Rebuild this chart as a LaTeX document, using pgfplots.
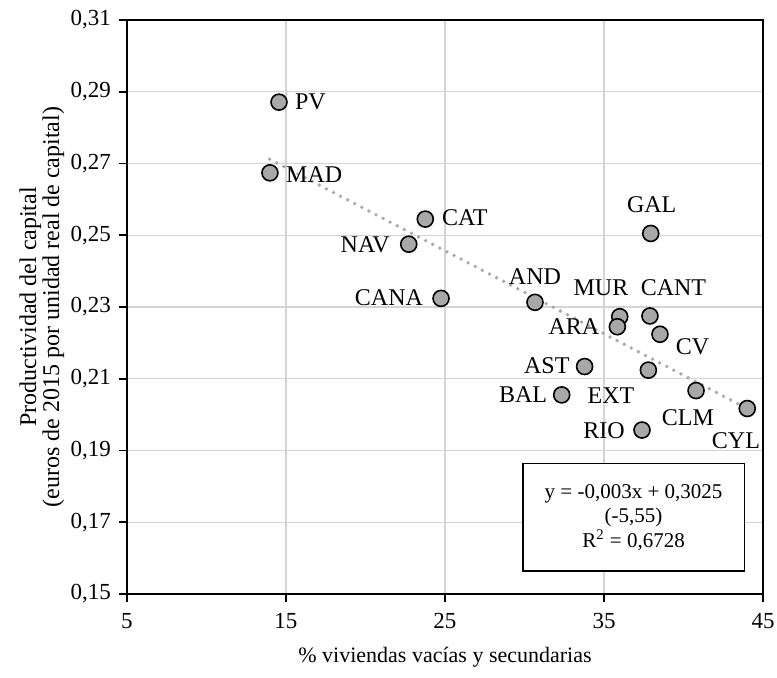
\documentclass[border=0pt]{standalone}
\usepackage{fontspec}
\setmainfont{Liberation Serif}
\usepackage{pgfplots}
\pgfplotsset{compat=1.18}
\definecolor{markgray}{RGB}{168,168,168}
\definecolor{trendgray}{RGB}{170,170,170}
\definecolor{gridgray}{RGB}{212,212,212}
\begin{document}
\begin{tikzpicture}
\useasboundingbox (-63.5pt,-42pt) rectangle (325pt,297pt);
\begin{axis}[
  at={(0,0)}, anchor=south west,
  scale only axis, width=318pt, height=287pt,
  xmin=5, xmax=45, ymin=0.15, ymax=0.31,
  xtick={5,15,25,35,45},
  ytick={0.15,0.17,0.19,0.21,0.23,0.25,0.27,0.29,0.31},
  yticklabels={{0,15},{0,17},{0,19},{0,21},{0,23},{0,25},{0,27},{0,29},{0,31}},
  /pgf/number format/assume math mode=true,
  tick pos=left,
  tick align=outside,
  major tick length=4pt,
  every tick/.style={black, line width=0.9pt},
  axis line style={line width=0.9pt},
  grid=major,
  major grid style={gridgray, line width=0.6pt},
  ticklabel style={font=\fontsize{11.5}{13}\selectfont},
  yticklabel style={xshift=-0.5pt},
  xticklabel style={yshift=-2pt},
  xlabel={\% viviendas vacías y secundarias},
  xlabel style={at={(axis description cs:0.5,-0.1185)}, anchor=base, font=\fontsize{11}{12}\selectfont},
  ylabel={Productividad del capital\\(euros de 2015 por unidad real de capital)},
  ylabel style={at={(axis description cs:-0.134,0.5)}, anchor=center, align=center, font=\fontsize{12}{11.5}\selectfont},
  clip=false,
]
% trend line
\addplot[trendgray, line width=1.9pt, line cap=round, dash pattern=on 0pt off 4pt] coordinates {(13.97,0.2712) (44.0,0.2017)};
% data points
\addplot[only marks, mark=*, mark size=4pt, mark options={fill=markgray, draw=black, line width=0.8pt}] coordinates {
(14.56,0.2871) (13.99,0.2674) (23.76,0.2545) (22.72,0.2475) (24.75,0.2324)
(30.66,0.2313) (37.94,0.2505) (35.99,0.2273) (35.84,0.2245) (37.89,0.2275)
(38.52,0.2224) (33.78,0.2134) (37.79,0.2124) (32.34,0.2055) (40.79,0.2067)
(44.01,0.2017) (37.39,0.1957)
};
\begin{scope}[every node/.style={font=\fontsize{12}{13}\selectfont, inner sep=0pt}]
\node[anchor=west] at (axis cs:15.55,0.2871) {PV};
\node[anchor=west] at (axis cs:14.99,0.2670) {MAD};
\node[anchor=west] at (axis cs:24.79,0.2548) {CAT};
\node[anchor=east] at (axis cs:21.54,0.2473) {NAV};
\node[anchor=east] at (axis cs:23.64,0.2325) {CANA};
\node at (axis cs:30.66,0.2385) {AND};
\node at (axis cs:38.0,0.2584) {GAL};
\node at (axis cs:34.81,0.2354) {MUR};
\node at (axis cs:39.37,0.2354) {CANT};
\node at (axis cs:33.11,0.2245) {ARA};
\node at (axis cs:40.57,0.2188) {CV};
\node at (axis cs:31.40,0.2136) {AST};
\node at (axis cs:29.91,0.2055) {BAL};
\node at (axis cs:35.44,0.2052) {EXT};
\node at (axis cs:40.28,0.1992) {CLM};
\node at (axis cs:43.30,0.1928) {CYL};
\node at (axis cs:35.0,0.1956) {RIO};
\end{scope}
\node[draw=black, line width=0.8pt, fill=white, minimum width=110.8pt, minimum height=53.9pt, align=center, font=\fontsize{10.5}{12.25}\selectfont] at (axis cs:36.86,0.1714) {y = -0,003x + 0,3025\\(-5,55)\\R\textsuperscript{2} = 0,6728};
\end{axis}
\end{tikzpicture}
\end{document}
